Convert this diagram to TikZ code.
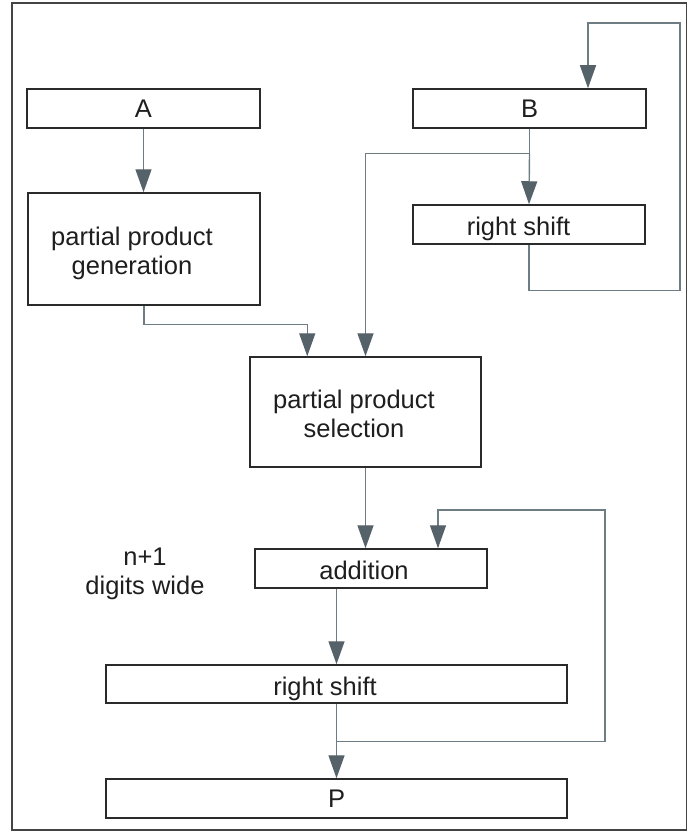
\documentclass[tikz,border=0pt]{standalone}
\usepackage{fontspec}
\setmainfont{Liberation Sans}
\usetikzlibrary{arrows.meta,calc}
\definecolor{boxline}{HTML}{2A2A2A}
\definecolor{frameline}{HTML}{444444}
\definecolor{wire}{HTML}{6E7D84}
\definecolor{tipfill}{HTML}{56626A}
\definecolor{ink}{HTML}{1E1E1E}
\begin{document}
\begin{tikzpicture}[x=1pt,y=-1pt,
  font=\fontsize{25.5}{29}\selectfont,
  blk/.style={draw=boxline, line width=1.5pt, fill=white, inner sep=0pt,
              text=ink, minimum height=39pt},
  lbl/.style={text=ink, inner sep=0pt, align=center},
  wire/.style={draw=wire, line width=1.4pt},
  arr/.style={wire, -{Triangle[length=23pt,width=16pt,color=tipfill,fill=tipfill]}}]

\useasboundingbox (0,0) rectangle (688,832);
\draw[frameline, line width=1.3pt] (12,3) rectangle (686.5,830);

% register blocks
\node[blk, minimum width=233pt] (A) at (143.5,108.5) {A};
\node[blk, minimum width=233pt] (B) at (529.5,108.5) {B};
\node[blk, minimum width=232pt, minimum height=112pt] (ppg) at (144,249) {};
\node[blk, minimum width=232pt] (rs1) at (529,224.5) {};
\node[blk, minimum width=231pt, minimum height=110pt] (pps) at (365.5,412) {};
\node[blk, minimum width=232pt] (add) at (371,568.5) {};
\node[blk, minimum width=461pt, minimum height=38pt] (rs2) at (336.5,684) {};
\node[blk, minimum width=461pt] (P) at (336.5,798.5) {P};

% block captions (base anchor = baseline of the last line)
\node[lbl, anchor=base] (tppg) at (132,274) {partial product\\generation};
\node[lbl, anchor=base] (trs1) at (518.5,235) {right shift};
\node[lbl, anchor=base] (tpps) at (354,437) {partial product\\selection};
\node[lbl, anchor=base] (tadd) at (364,579) {addition};
\node[lbl, anchor=base] (trs2) at (325,695) {right shift};
\node[lbl, anchor=base] (twide) at (145,594) {n+1\\digits wide};

% bend points
\coordinate (jB) at ($(B.south)+(0,25)$);
\coordinate (loopB) at (680,23);
\coordinate (jR) at ($(rs2.south)+(0,38)$);
\coordinate (loopR) at (605,510);

% connectors
\draw[arr] (A.south) -- (A.south |- ppg.north);
\draw[wire] (B.south) -- (jB);
\draw[arr] (jB) -- (rs1.north);
\draw[arr] (jB) -| (pps.north);
\draw[arr] (rs1.south) -- ++(0,46) -| (loopB) -| ([xshift=58.5pt]B.north);
\draw[arr] (ppg.south) -- ++(0,19) -| ([xshift=58pt]pps.north west);
\draw[arr] (pps.south) -- (pps.south |- add.north);
\draw[arr] (rs2.north |- add.south) -- (rs2.north);
\draw[arr] (rs2.south) -- (P.north);
\draw[arr] (jR) -| (loopR) -| ([xshift=67pt]add.north);
\end{tikzpicture}
\end{document}
